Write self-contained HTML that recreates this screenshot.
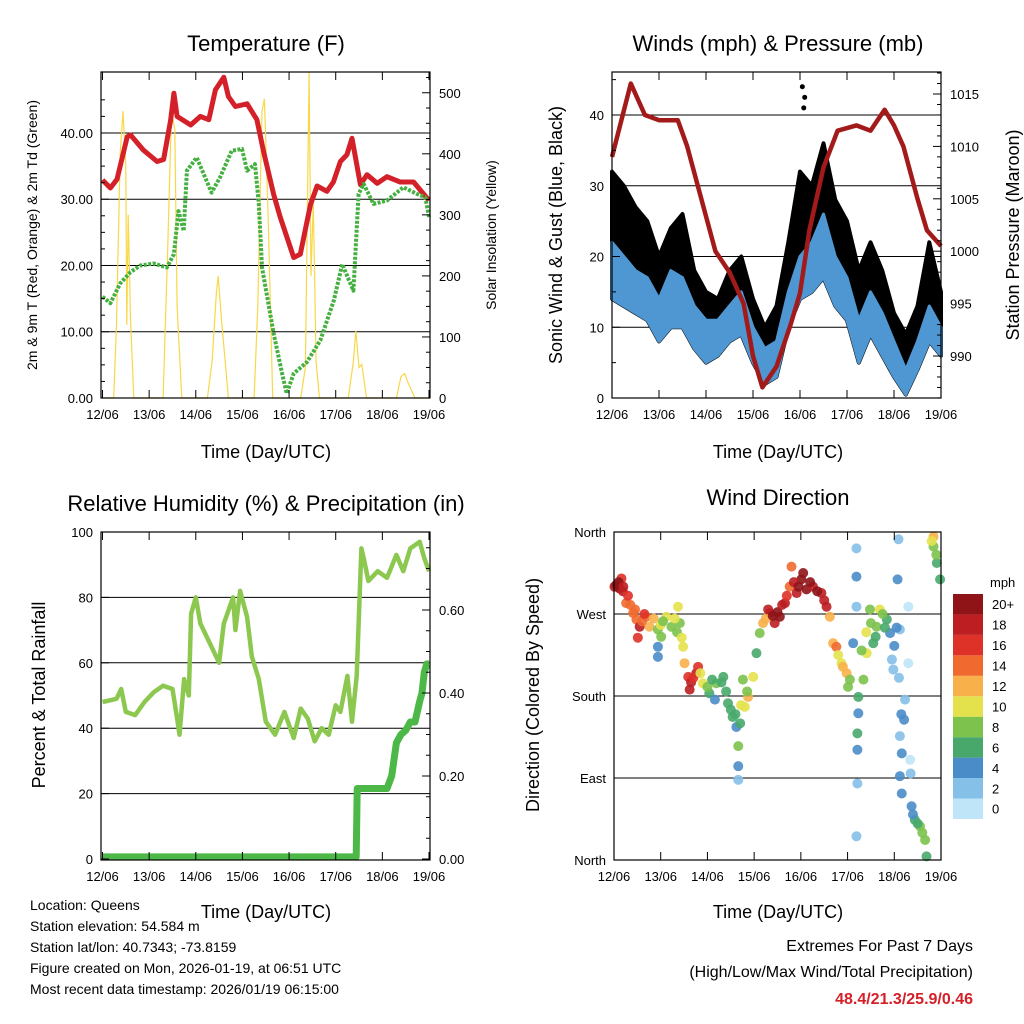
<!DOCTYPE html>
<html><head><meta charset="utf-8"><style>
body{margin:0;background:#fff;}
svg{display:block;font-family:"Liberation Sans",sans-serif;}
</style></head><body>
<svg id="s" width="1024" height="1024" viewBox="0 0 1024 1024">
<g font-size="22" text-anchor="middle">
<text x="266" y="51">Temperature (F)</text>
<text x="778" y="51">Winds (mph) &amp; Pressure (mb)</text>
<text x="266" y="511">Relative Humidity (%) &amp; Precipitation (in)</text>
<text x="778" y="505">Wind Direction</text>
</g>
<g font-size="18" text-anchor="middle">
<text x="266" y="458">Time (Day/UTC)</text>
<text x="778" y="458">Time (Day/UTC)</text>
<text x="266" y="918">Time (Day/UTC)</text>
<text x="778" y="918">Time (Day/UTC)</text>
<text transform="translate(37,235) rotate(-90)" font-size="14">2m &amp; 9m T (Red, Orange) &amp; 2m Td (Green)</text>
<text transform="translate(496,235) rotate(-90)" font-size="14">Solar Insolation (Yellow)</text>
<text transform="translate(562,235) rotate(-90)">Sonic Wind &amp; Gust (Blue, Black)</text>
<text transform="translate(1019,235) rotate(-90)">Station Pressure (Maroon)</text>
<text transform="translate(45,695) rotate(-90)">Percent &amp; Total Rainfall</text>
<text transform="translate(539,695) rotate(-90)">Direction (Colored By Speed)</text>
</g>
<g font-size="14">
<text x="30" y="910">Location: Queens</text>
<text x="30" y="931">Station elevation: 54.584 m</text>
<text x="30" y="952">Station lat/lon: 40.7343; -73.8159</text>
<text x="30" y="973">Figure created on Mon, 2026-01-19, at 06:51 UTC</text>
<text x="30" y="994">Most recent data timestamp: 2026/01/19 06:15:00</text>
</g>
<g font-size="16" text-anchor="end">
<text x="973" y="951">Extremes For Past 7 Days</text>
<text x="973" y="977">(High/Low/Max Wind/Total Precipitation)</text>
<text x="973" y="1004" fill="#d42028" font-weight="bold">48.4/21.3/25.9/0.46</text>
</g>
</svg>
<script>
// ---------- data ----------
const dayLabels=["12/06","13/06","14/06","15/06","16/06","17/06","18/06","19/06"];
const tDays=[0,0.17,0.31,0.53,0.6,0.88,1.17,1.31,1.46,1.53,1.6,1.89,2.1,2.28,2.42,2.6,2.7,2.85,3.1,3.31,3.45,3.67,3.81,4.1,4.24,4.46,4.6,4.81,4.95,5.1,5.24,5.35,5.53,5.67,5.89,6.1,6.38,6.67,7.0];
const tempVals=[32.9,31.7,33,39.4,39.7,37.4,35.7,36,41.9,46,42.5,41.2,42.5,42,46.5,48.4,45.5,44,44.4,42,37.3,30.7,27.3,21.2,21.7,29.2,32,31.2,32.6,35.7,36.7,39.2,32.2,33.7,32.4,33.4,32.6,32.6,29.8];
const tdDays=[0,0.17,0.38,0.6,0.81,1.1,1.38,1.53,1.63,1.74,1.81,2.02,2.34,2.52,2.77,2.99,3.1,3.27,3.35,3.42,3.52,3.67,3.85,3.95,4.1,4.38,4.67,4.96,5.14,5.38,5.49,5.6,5.81,6.1,6.45,6.74,6.92,7.0];
const dewVals=[15.3,14.3,17.3,19,20,20.3,19.7,21.7,28.2,25.2,34.3,36.3,31,33.3,37.3,37.6,34.3,35.3,29.3,19.7,15.7,9.7,3.7,0.7,3.7,5.4,8.7,14.7,20.2,16.2,30.8,32.3,29.3,29.8,31.8,30.8,30.3,27.3];
const solarDays=[0,0.24,0.3,0.38,0.44,0.5,0.52,0.55,0.6,0.67,1.3,1.4,1.48,1.55,1.6,1.7,2.25,2.35,2.44,2.48,2.55,2.7,3.25,3.33,3.42,3.47,3.55,3.65,4.25,4.35,4.43,4.47,4.52,4.58,4.65,5.27,5.38,5.43,5.5,5.56,5.66,6.3,6.4,6.48,6.55,6.7,7];
const solarVals=[0,0,120,400,470,380,120,300,130,0,0,250,470,440,150,0,0,60,170,200,130,0,0,150,470,490,300,0,0,50,534,200,320,60,0,0,60,110,50,55,0,0,35,40,25,0,0];
const windDays=[0,0.25,0.5,0.75,1,1.25,1.5,1.75,2,2.25,2.5,2.75,3,3.25,3.5,3.75,4,4.25,4.5,4.75,5,5.25,5.5,5.75,6,6.25,6.5,6.75,7];
const gustHigh=[32,30,27,25,20,24,26,18,15,14,18,20,14,10,13,22,32,30,36,28,25,18,22,18,12,9,13,22,15];
const windHigh=[22,20,18,17,14,18,17,13,11,11,13,15,10,7,8,15,20,22,26,20,17,11,15,12,8,4,8,13,10];
const windLow=[14,13,12,11,8,10,10,7,5,6,8,9,5,2,3,10,14,15,17,13,11,5,9,6,3,0.5,4,8,6];
const gustOutDays=[4.05,4.1,4.08];
const gustOutVals=[44,42.5,41];
const presDays=[0,0.4,0.7,1,1.4,1.6,1.9,2.2,2.5,2.8,3,3.2,3.5,3.8,4,4.2,4.5,4.8,5.2,5.5,5.8,6,6.2,6.5,6.7,7];
const presVals=[1009,1016,1013,1012.5,1012.5,1010,1005,1000,998,995,990,987,989,993,996,1002,1008,1011.5,1012,1011.5,1013.5,1012,1010,1005,1002,1000.5];
const rhDays=[0,0.3,0.4,0.5,0.7,0.9,1.1,1.3,1.5,1.6,1.65,1.75,1.85,1.9,2,2.1,2.3,2.5,2.6,2.8,2.85,2.95,3.1,3.2,3.35,3.5,3.7,3.9,4.1,4.25,4.4,4.55,4.7,4.85,5,5.1,5.25,5.35,5.45,5.55,5.6,5.7,5.9,6.1,6.3,6.45,6.6,6.8,6.9,7];
const rhVals=[48,49,52,45,44,48,51,53,52,43,38,55,50,75,80,72,66,60,72,80,70,82,74,62,55,42,38,45,37,46,43,36,40,38,47,45,56,42,56,95,92,85,88,86,93,88,95,97,92,88];
const rainDays=[0,5.44,5.46,6.1,6.2,6.3,6.4,6.5,6.6,6.7,6.8,6.85,6.9,6.95,7.0];
const rainVals=[0.005,0.005,0.17,0.17,0.2,0.28,0.3,0.31,0.33,0.33,0.38,0.4,0.45,0.47,0.47];
const dirDays=[0.01,0.12,0.19,0.16,0.26,0.41,0.48,0.55,0.69,0.76,0.51,0.94,1.01,0.94,0.94,1.12,1.23,1.37,1.41,1.48,1.51,1.59,1.62,1.76,1.8,1.9,2.04,2.16,2.19,2.34,2.44,2.54,2.62,2.66,2.66,2.66,2.8,2.87,2.76,2.98,3.05,3.12,3.19,3.34,3.44,3.55,3.66,3.76,3.8,3.91,4.01,4.12,4.26,4.44,4.55,4.62,4.69,4.76,4.87,4.98,5.01,5.12,5.19,5.19,5.19,5.23,5.23,5.21,5.21,5.21,5.19,5.34,5.41,5.48,5.55,5.62,5.69,5.84,5.91,5.98,6.09,6.07,6.12,6.3,6.3,6.23,6.21,6.12,6.16,6.34,6.12,6.16,6.37,6.44,6.55,6.66,6.69,6.84,6.84,6.91,6.98,
0.05,0.1,0.2,0.3,0.35,0.45,0.6,0.65,0.85,1.0,1.05,1.3,1.35,1.45,1.65,1.7,1.85,2.0,2.1,2.3,2.4,2.5,2.6,2.7,2.72,2.85,3.25,3.3,3.4,3.5,3.6,3.7,3.85,3.95,4.05,4.2,4.35,4.5,4.8,4.9,5.05,5.3,5.4,5.5,5.6,5.75,5.8,5.95,6.0,6.05,6.1,6.15,6.35,6.4,6.5,6.6,6.8,6.9];
const dirDeg=[300,298,295,309,282,271,264,256,267,256,244,253,245,234,223,267,256,278,260,234,216,201,187,205,212,194,183,176,194,201,172,157,146,125,103,88,168,179,198,201,227,249,260,271,260,267,282,300,322,293,308,297,300,293,278,267,238,234,216,205,190,238,342,311,278,179,161,139,121,84,26,198,227,275,238,256,275,264,249,209,352,308,253,278,216,176,154,136,117,110,92,73,59,44,37,22,4,355,344,326,308,
302,305,300,290,280,275,262,270,265,258,262,265,250,244,195,200,205,190,198,195,185,165,160,150,170,185,265,275,268,272,280,290,305,300,315,305,295,285,225,212,198,230,250,260,245,270,255,220,235,255,200,160,95,50,40,30,350,335];
const dirSpeed=[19,20,18,16,14,14,15,18,15,13,16,8,8,5,4,10,9,10,8,10,12,16,18,18,16,10,7,4,8,7,6,6,5,8,4,3,11,13,8,10,7,8,12,18,19,20,18,15,14,19,20,20,19,18,19,12,12,14,11,13,8,4,3,4,3,6,4,6,4,3,3,8,10,9,6,8,10,7,4,3,3,4,2,1,1,2,4,3,4,1,4,4,5,6,9,8,7,12,9,7,6,
20,20,19,16,14,15,14,16,12,10,9,10,8,11,18,17,10,8,6,7,6,6,7,6,10,9,12,19,20,20,19,17,19,20,21,20,20,18,10,12,9,8,10,8,7,8,6,3,4,5,3,4,2,5,7,9,10,8];
const cbLabels=["0","2","4","6","8","10","12","14","16","18","20+"];
const cbColors=["#bfe5f8","#85c0e8","#4a8cc8","#48a86c","#7cc24c","#e4e24c","#f8b04a","#f06a30","#de3228","#bc1e22","#8e1418"];

// ---------- helpers ----------
const NS="http://www.w3.org/2000/svg";
const svg=document.getElementById('s');
function el(tag,attrs,parent){const e=document.createElementNS(NS,tag);for(const k in attrs)e.setAttribute(k,attrs[k]);(parent||svg).appendChild(e);return e;}
function lin(d0,d1,r0,r1){return v=>r0+(v-d0)/(d1-d0)*(r1-r0);}
function pathOf(xs,ys,fx,fy){return xs.map((d,i)=>(i?'L':'M')+fx(d).toFixed(1)+','+fy(ys[i]).toFixed(1)).join('');}
function bandOf(xs,lo,hi,fx,fy){let p=xs.map((d,i)=>(i?'L':'M')+fx(d).toFixed(1)+','+fy(hi[i]).toFixed(1)).join('');for(let i=xs.length-1;i>=0;i--)p+='L'+fx(xs[i]).toFixed(1)+','+fy(lo[i]).toFixed(1);return p+'Z';}

function panel(name){
  const g=el('g',{});
  
  
  return g;
}
function frame(g,L,R,T,B,fx,name){
  const r=el('rect',{x:L,y:T,width:R-L,height:B-T,fill:'none',stroke:'#000','stroke-width':1.2},g);
  
  
  for(let i=0;i<dayLabels.length;i++){
    const x=fx(i);
    const t1=el('line',{x1:x,x2:x,y1:B,y2:B-8,stroke:'#000','stroke-width':1},g);
    
    
    el('line',{x1:x,x2:x,y1:T,y2:T+8,stroke:'#000','stroke-width':1},g);
    const t=el('text',{x:x,y:B+21,'font-size':13,'text-anchor':'middle'},g);
    
    
    t.textContent=dayLabels[i];
  }
}
function hgrid(g,L,R,y){const l=el('line',{x1:L,x2:R,y1:y,y2:y,stroke:'#000','stroke-width':1},g);
  
  }
function ytick(g,x,y,label,side,len,fs){
  const l=el('line',{x1:x,x2:x+(side==='l'?len:-len),y1:y,y2:y,stroke:'#000','stroke-width':1},g);
  
  
  if(label!==null){const t=el('text',{x:side==='l'?x-8:x+9,y:y+5,'font-size':fs||13,'text-anchor':side==='l'?'end':'start'},g);
  
  
  t.textContent=label;}
}

// ---------- Panel 1: temperature ----------
(function(){
  const L=101,R=430,T=72,B=398;
  const g=panel('temperature-panel');
  const fx=lin(0,7,102.5,429),fy=lin(0,49.2,B,T),fs=lin(0,534,B,T);
  [10,20,30,40].forEach(v=>hgrid(g,L,R,fy(v)));
  const s=el('path',{d:pathOf(solarDays,solarVals,fx,fs),fill:'none',stroke:'#f8d848','stroke-width':1.2},g);
  
  
  const r=el('path',{d:pathOf(tDays,tempVals,fx,fy),fill:'none',stroke:'#d42028','stroke-width':5,'stroke-linejoin':'round'},g);
  
  
  const d=el('path',{d:pathOf(tdDays,dewVals,fx,fy),fill:'none',stroke:'#44b040','stroke-width':4,'stroke-dasharray':'3 1.5','stroke-linejoin':'round'},g);
  
  
  frame(g,L,R,T,B,fx,'temperature');
  for(let v=0;v<=45;v+=2.5){const maj=v%10===0;ytick(g,L,fy(v),maj?v.toFixed(2):null,'l',maj?8:4);}
  for(let v=0;v<=525;v+=25){const maj=v%100===0;ytick(g,R,fs(v),maj?String(v):null,'r',maj?8:4);}
})();

// ---------- Panel 2: winds ----------
(function(){
  const L=612,R=941,T=72,B=398;
  const g=panel('winds-panel');
  const fx=lin(0,7,612,941),fy=lin(0,40,B,115),fp=lin(990,1015,356,94);
  [10,20,30,40].forEach(v=>hgrid(g,L,R,fy(v)));
  const k=el('path',{d:bandOf(windDays,windLow,gustHigh,fx,fy),fill:'#000',stroke:'#000','stroke-width':4,'stroke-linejoin':'round'},g);
  
  
  gustOutDays.forEach((d,i)=>{const c=el('circle',{cx:fx(d),cy:fy(gustOutVals[i]),r:2.5,fill:'#000'},g);
    
    });
  const b=el('path',{d:bandOf(windDays,windLow,windHigh,fx,fy),fill:'#4f97d2',stroke:'#4f97d2','stroke-width':3,'stroke-linejoin':'round'},g);
  
  
  const p=el('path',{d:pathOf(presDays,presVals,fx,fp),fill:'none',stroke:'#a31a1a','stroke-width':4.5,'stroke-linejoin':'round'},g);
  
  
  frame(g,L,R,T,B,fx,'winds');
  for(let v=0;v<=45;v+=5){const maj=v%10===0;ytick(g,L,fy(v),maj?String(v):null,'l',maj?8:4);}
  for(let v=986;v<=1017;v+=1){const maj=v%5===0;ytick(g,R,fp(v),maj?String(v):null,'r',maj?8:4);}
})();

// ---------- Panel 3: RH ----------
(function(){
  const L=101,R=430,T=532,B=860;
  const g=panel('humidity-panel');
  const fx=lin(0,7,102.5,429),fy=lin(0,100,B-1,T),fr=lin(0,0.6,B-1,610);
  [20,40,60,80].forEach(v=>hgrid(g,L,R,fy(v)));
  const h=el('path',{d:pathOf(rhDays,rhVals,fx,fy),fill:'none',stroke:'#8cc850','stroke-width':4.5,'stroke-linejoin':'round'},g);
  
  
  const r=el('path',{d:pathOf(rainDays,rainVals,fx,fr),fill:'none',stroke:'#4cb848','stroke-width':7,'stroke-linejoin':'round'},g);
  
  
  frame(g,L,R,T,B,fx,'humidity');
  for(let v=0;v<=100;v+=20){ytick(g,L,fy(v),String(v),'l',8);}
  for(let v=0;v<=0.8;v+=0.05){const maj=Math.abs(v*10-Math.round(v*10))<1e-6&&Math.round(v*10)%2===0;ytick(g,R,fr(v),maj?v.toFixed(2):null,'r',maj?8:4);}
})();

// ---------- Panel 4: wind direction ----------
(function(){
  const L=614,R=941,T=532,B=860;
  const g=panel('wind-direction-panel');
  const fx=lin(0,7,614,941),fy=lin(0,360,B,T);
  const names=["North","East","South","West","North"];
  [90,180,270].forEach(v=>hgrid(g,L,R,fy(v)));
  dirDays.forEach((d,i)=>{
    const ci=Math.min(10,Math.floor(dirSpeed[i]/2));
    const c=el('circle',{cx:fx(d),cy:fy(dirDeg[i]),r:5,fill:cbColors[ci],opacity:0.9},g);
    
    
  });
  frame(g,L,R,T,B,fx,'wind-direction');
  names.forEach((n,i)=>ytick(g,L,fy(i*90),n,'l',8));
  const cg=el('g',{},g);
  
  
  const u=el('text',{x:990,y:587,'font-size':13},cg);
  
  
  u.textContent='mph';
  const h=20.45;
  cbLabels.forEach((lab,i)=>{
    const y=594+(10-i)*h;
    const rc=el('rect',{x:953,y:y,width:30,height:h,fill:cbColors[i]},cg);
    
    
    const t=el('text',{x:992,y:y+h/2+5,'font-size':13},cg);
    
    
    t.textContent=lab;
  });
})();
</script>
</body></html>
